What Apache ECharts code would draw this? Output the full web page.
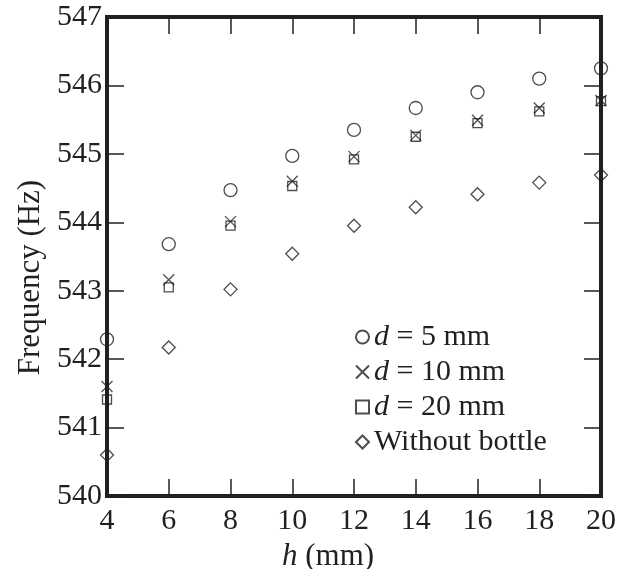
<!DOCTYPE html>
<html>
<head>
<meta charset="utf-8">
<script src="https://cdn.jsdelivr.net/npm/echarts@6/dist/echarts.min.js"></script>
<style>
  html, body { margin: 0; padding: 0; background: #fff; }
  #chart { width: 628px; height: 569px; }
</style>
</head>
<body>
<div id="chart"></div>
<script>
const heights = [4, 6, 8, 10, 12, 14, 16, 18, 20];
const d5 = [542.29, 543.68, 544.47, 544.97, 545.35, 545.67, 545.90, 546.10, 546.25];
const d10 = [541.60, 543.16, 544.01, 544.60, 544.96, 545.27, 545.49, 545.67, 545.78];
const d20 = [541.41, 543.05, 543.95, 544.53, 544.92, 545.25, 545.45, 545.62, 545.77];
const noBottle = [540.60, 542.17, 543.02, 543.54, 543.95, 544.22, 544.41, 544.58, 544.69];

const ink = "#231f20";
const font = "Liberation Serif";
const crossPath = "path://M0,0L10,10M10,0L0,10";

function pairs(ys) {
  return heights.map((h, i) => [h, ys[i]]);
}

function markers(name, ys, symbol, size) {
  return {
    name: name,
    type: "scatter",
    data: pairs(ys),
    symbol: symbol,
    symbolSize: size,
    itemStyle: { color: "rgba(0,0,0,0)", borderColor: ink, borderWidth: 1.3 },
    emphasis: { disabled: true }
  };
}

const chart = echarts.init(document.getElementById("chart"));
chart.setOption({
  animation: false,
  grid: {
    left: 107, top: 17, right: 27, bottom: 73,
    outerBoundsMode: "none",
    show: true, borderColor: ink, borderWidth: 4, backgroundColor: "transparent"
  },
  legend: {
    orient: "vertical",
    left: 350,
    top: 317,
    itemWidth: 13,
    itemHeight: 13,
    itemGap: 5,
    selectedMode: false,
    textStyle: {
      fontFamily: font, fontSize: 30, color: ink, lineHeight: 30,
      rich: {
        i: { fontFamily: font, fontSize: 30, fontStyle: "italic", color: ink, lineHeight: 30 }
      }
    },
    formatter: function (n) {
      return n.indexOf("d = ") === 0 ? "{i|d}" + n.slice(1) : n;
    },
    data: ["d = 5 mm", "d = 10 mm", "d = 20 mm", "Without bottle"]
  },
  xAxis: [
    {
      type: "value", min: 4, max: 20, interval: 2,
      name: "{i|h} (mm)",
      nameLocation: "middle",
      nameGap: 44,
      nameTextStyle: {
        fontFamily: font, fontSize: 31, color: ink, padding: [0, 52, 0, 0],
        rich: { i: { fontFamily: font, fontSize: 31, fontStyle: "italic", color: ink } }
      },
      axisLine: { lineStyle: { color: ink, width: 4 } },
      axisTick: { inside: true, length: 17, lineStyle: { color: ink, width: 1.5 } },
      axisLabel: { fontFamily: font, fontSize: 30, color: ink, margin: 10 },
      splitLine: { show: false }
    },
    {
      type: "value", min: 4, max: 20, interval: 2, position: "top",
      axisLine: { lineStyle: { color: ink, width: 4 } },
      axisTick: { inside: true, length: 17, lineStyle: { color: ink, width: 1.5 } },
      axisLabel: { show: false },
      splitLine: { show: false }
    }
  ],
  yAxis: [
    {
      type: "value", min: 540, max: 547, interval: 1,
      name: "Frequency (Hz)",
      nameLocation: "middle",
      nameGap: 52,
      nameTextStyle: { fontFamily: font, fontSize: 31, color: ink, padding: [0, 42, 0, 0] },
      axisLine: { lineStyle: { color: ink, width: 4 } },
      axisTick: { inside: true, length: 17, lineStyle: { color: ink, width: 1.5 } },
      axisLabel: { fontFamily: font, fontSize: 30, color: ink, margin: 5 },
      splitLine: { show: false }
    },
    {
      type: "value", min: 540, max: 547, interval: 1, position: "right",
      axisLine: { lineStyle: { color: ink, width: 4 } },
      axisTick: { inside: true, length: 17, lineStyle: { color: ink, width: 1.5 } },
      axisLabel: { show: false },
      splitLine: { show: false }
    }
  ],
  series: [
    markers("d = 5 mm", d5, "circle", 13),
    markers("d = 10 mm", d10, crossPath, 11),
    markers("d = 20 mm", d20, "rect", 9),
    markers("Without bottle", noBottle, "diamond", 13)
  ]
});
</script>
</body>
</html>
